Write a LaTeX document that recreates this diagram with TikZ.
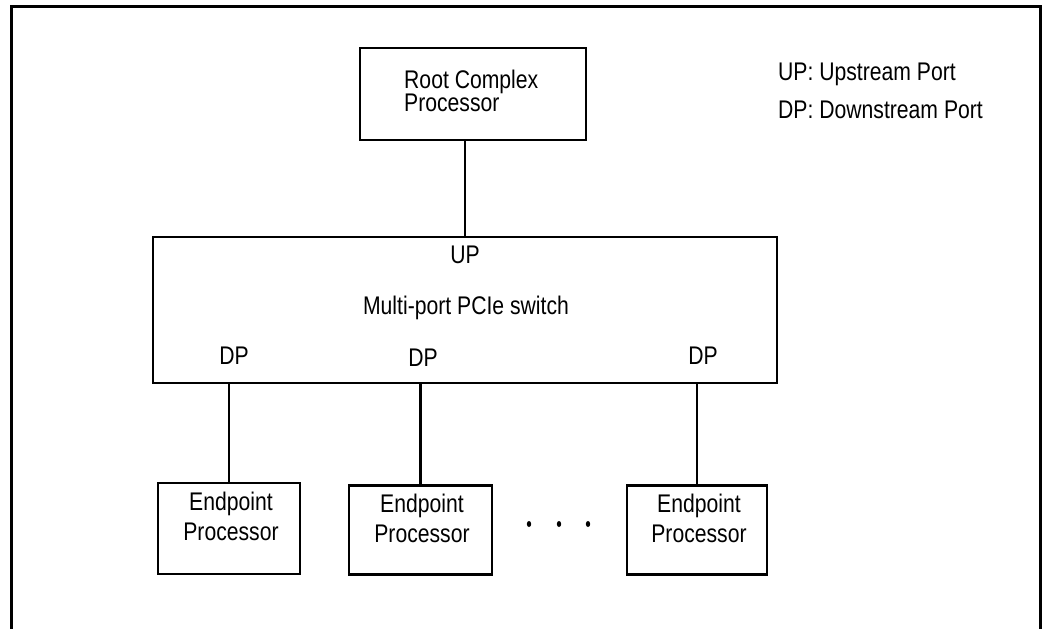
\documentclass[tikz,border=0pt]{standalone}
\usepackage{fontspec}
\setmainfont[FakeStretch=0.83]{Liberation Sans}
\begin{document}
\begin{tikzpicture}[x=1pt,y=-1pt,
  box/.style={draw, line width=2.5pt, inner sep=0pt},
  lbl/.style={inner sep=0pt, font=\fontsize{25.5}{30}\selectfont},
  wire/.style={line width=2.5pt}]
\useasboundingbox (0,0) rectangle (1042,629);
% outer frame, open at the bottom
\draw[line width=3pt] (11.5,629) -- (11.5,6.5) -- (1040.5,6.5) -- (1040.5,629);
% root complex
\node[box, minimum width=226, minimum height=92] (rcp) at (473,94){};
\node[lbl, anchor=north west, align=left, font=\fontsize{25.5}{23}\selectfont] (rcptxt) at (404,70){Root Complex\\ Processor};
% switch
\node[box, minimum width=624, minimum height=146] (sw) at (465,310){};
\node[lbl, anchor=base] (up) at (465,263){UP};
\node[lbl, anchor=base] (swtxt) at (466,314){Multi-port PCIe switch};
\node[lbl, anchor=base] (dp1) at (234,364){DP};
\node[lbl, anchor=base] (dp2) at (423,366){DP};
\node[lbl, anchor=base] (dp3) at (703,364){DP};
\draw[wire] (rcp.south-|up) -- (sw.north-|up);
% endpoints
\node[box, minimum width=142, minimum height=91] (ep1) at (229,528.5){};
\node[box, minimum width=143, minimum height=89] (ep2) at (420.5,530){};
\node[box, minimum width=140, minimum height=89] (ep3) at (697,530){};
\node[lbl, anchor=north, align=center] (ep1txt) at (231,492){Endpoint\\Processor};
\node[lbl, anchor=north, align=center] (ep2txt) at (422,494){Endpoint\\Processor};
\node[lbl, anchor=north, align=center] (ep3txt) at (699,494){Endpoint\\Processor};
\draw[wire] (sw.south-|ep1) -- (ep1);
\draw[wire] (sw.south-|ep2) -- (ep2);
\draw[wire] (sw.south-|ep3) -- (ep3);
% dots
\foreach \x in {529,559,588}
  \fill (\x,524) ellipse (2.2pt and 3pt);
% legend
\node[lbl, anchor=base west] (lgup) at (778,80){UP: Upstream Port};
\node[lbl, anchor=base west] (lgdp) at (778,118){DP: Downstream Port};
\end{tikzpicture}
\end{document}
